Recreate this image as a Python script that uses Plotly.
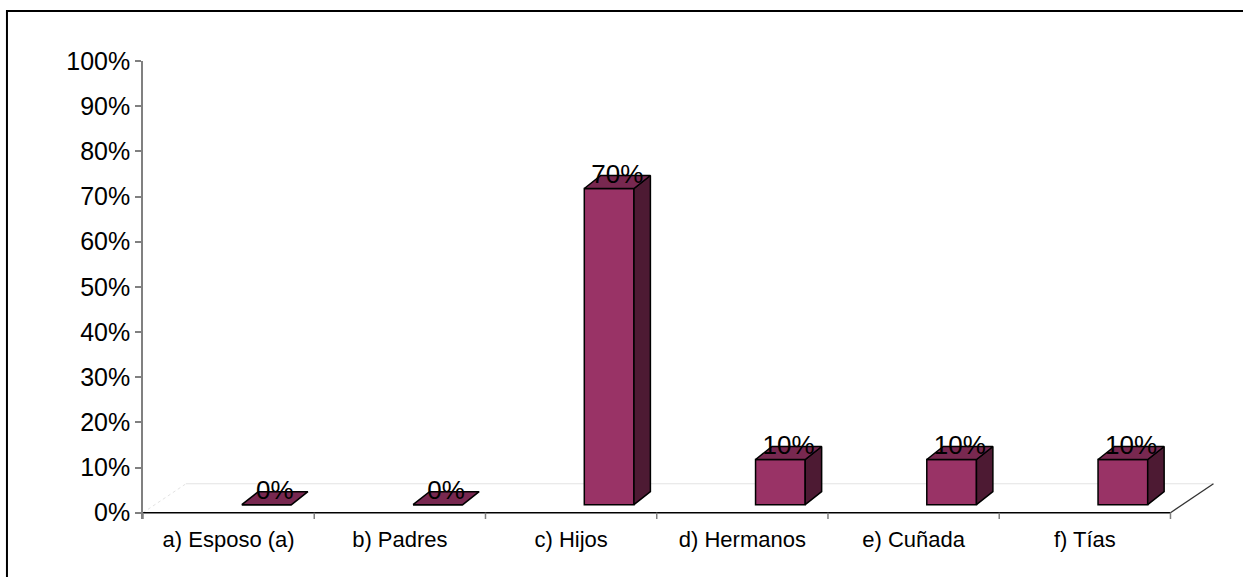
import plotly.graph_objects as go

# ---- data ----
categories = ["a) Esposo (a)", "b) Padres", "c) Hijos", "d) Hermanos", "e) Cuñada", "f) Tías"]
values = [0, 0, 70, 10, 10, 10]
y_ticks = [0, 10, 20, 30, 40, 50, 60, 70, 80, 90, 100]
y_tick_labels = [f"{v}%" for v in y_ticks]
bar_labels = [f"{v}%" for v in values]

# ---- style (3-D look) ----
FRONT = "#993366"
SIDE = "#4d1a33"
TOP = "#782850"
BAR_SHIFT = 0.222      # bar centre shift (category units) caused by perspective
BAR_W = 0.29
BASE = 1.77            # front face bottom (in %)
DX, DY = 0.096, 2.88   # bar depth
FDX, FDY = 0.251, 6.4  # floor depth
FONT = "Liberation Sans, Arial, sans-serif"

idx = list(range(len(categories)))
fig = go.Figure()

# front faces
fig.add_trace(go.Bar(
    x=idx, y=values, base=BASE, width=BAR_W, offset=BAR_SHIFT - BAR_W / 2,
    marker=dict(color=FRONT, line=dict(color="black", width=1.5)),
    hoverinfo="skip"))

# side faces
sx, sy = [], []
for i, v in zip(idx, values):
    if v <= 0:
        continue
    x1 = i + BAR_SHIFT + BAR_W / 2
    sx += [x1, x1 + DX, x1 + DX, x1, x1, None]
    sy += [BASE, BASE + DY, BASE + v + DY, BASE + v, BASE, None]
fig.add_trace(go.Scatter(x=sx, y=sy, mode="lines", fill="toself", fillcolor=SIDE,
                         line=dict(color="black", width=1.5), hoverinfo="skip"))

# top faces
tx, ty = [], []
for i, v in zip(idx, values):
    x0 = i + BAR_SHIFT - BAR_W / 2
    x1 = x0 + BAR_W
    t = BASE + v
    tx += [x0, x1, x1 + DX, x0 + DX, x0, None]
    ty += [t, t, t + DY, t + DY, t, None]
fig.add_trace(go.Scatter(x=tx, y=ty, mode="lines", fill="toself", fillcolor=TOP,
                         line=dict(color="black", width=1.5), hoverinfo="skip"))

# value labels
fig.add_trace(go.Scatter(
    x=[i + BAR_SHIFT + DX / 2 for i in idx],
    y=[BASE + v + DY / 2 + 1.2 for v in values],
    mode="text", text=bar_labels, textposition="middle center",
    textfont=dict(family=FONT, size=26, color="black"),
    cliponaxis=False, hoverinfo="skip"))

# floor / axis lines
n = len(categories)
left, right = -0.5, n - 0.5
shapes = [
    dict(type="line", xref="x", yref="y", x0=left + FDX, y0=FDY, x1=right + FDX, y1=FDY,
         line=dict(color="#e3e3e3", width=1), layer="below"),
    dict(type="line", xref="x", yref="y", x0=left, y0=0, x1=left + FDX, y1=FDY,
         line=dict(color="#e3e3e3", width=1, dash="dot"), layer="below"),
    dict(type="line", xref="x", yref="y", x0=right, y0=0, x1=right + FDX, y1=FDY,
         line=dict(color="#333333", width=1.3), layer="below"),
    dict(type="line", xref="x", yref="y", x0=left, y0=0, x1=right, y1=0,
         line=dict(color="black", width=1.6), layer="below"),
]
for b in range(n + 1):
    xb = left + b
    shapes.append(dict(type="line", xref="x", yref="y", x0=xb, y0=0, x1=xb, y1=-1.4,
                       line=dict(color="#808080", width=1.5), layer="below"))
# chart frame
shapes.append(dict(type="rect", xref="paper", yref="paper", x0=-0.1269, y0=-0.5, x1=1.5, y1=1.1092,
                   line=dict(color="black", width=2), fillcolor="rgba(0,0,0,0)", layer="below"))

fig.update_layout(
    width=1243, height=577,
    margin=dict(l=143, r=28, t=61, b=58),
    paper_bgcolor="white", plot_bgcolor="white",
    showlegend=False, shapes=shapes,
    font=dict(family=FONT, color="black"),
    xaxis=dict(range=[left, right + 0.26], tickmode="array", tickvals=idx, ticktext=categories,
               ticks="", showgrid=False, zeroline=False, showline=False,
               tickfont=dict(size=22, family=FONT, color="black"), ticklabelstandoff=5),
    yaxis=dict(range=[-1.4, 100], tickmode="array", tickvals=y_ticks, ticktext=y_tick_labels,
               ticks="outside", ticklen=6, tickcolor="#808080", tickwidth=1.5,
               showline=True, linecolor="#808080", linewidth=1.5,
               showgrid=False, zeroline=False,
               tickfont=dict(size=25, family=FONT, color="black")),
)

fig.write_html("out.html")
